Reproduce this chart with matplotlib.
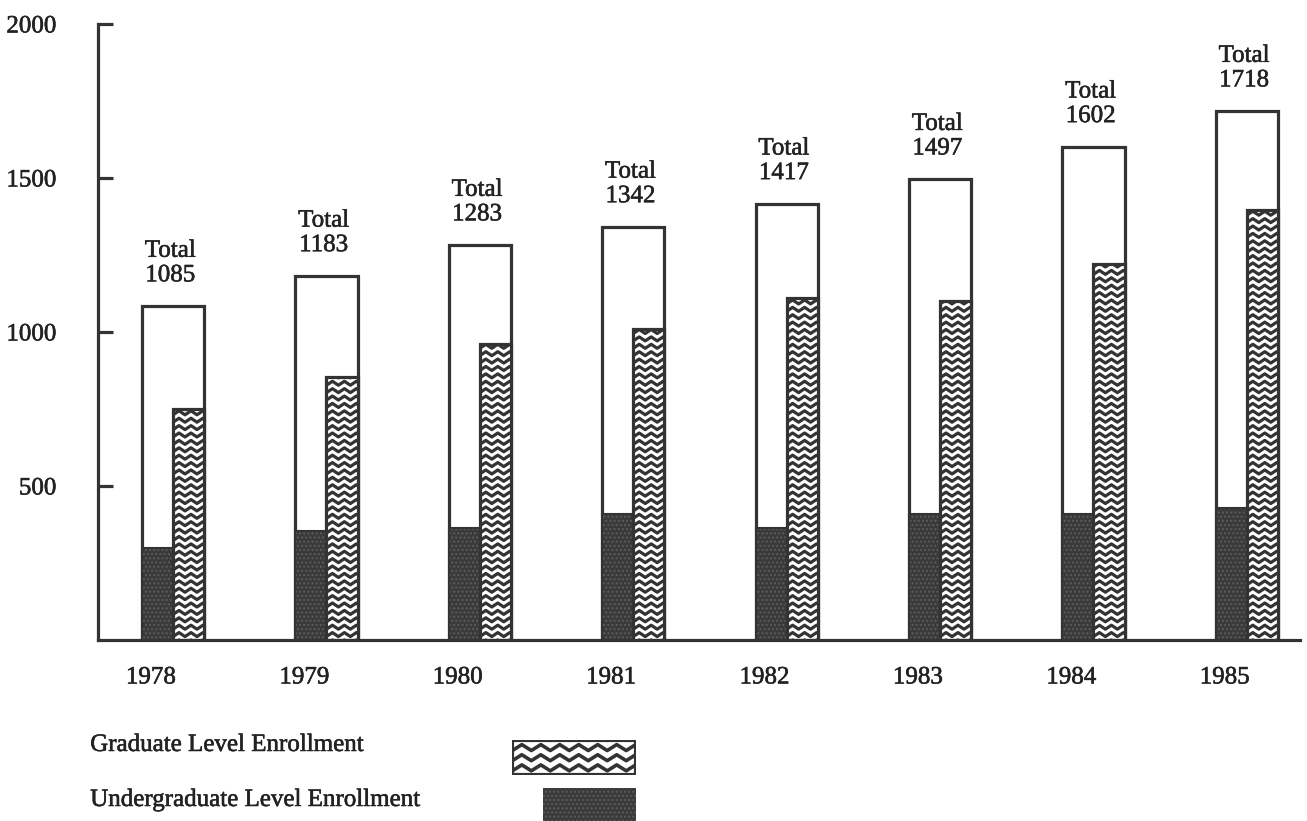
import matplotlib
matplotlib.use("Agg")
import matplotlib.pyplot as plt
import matplotlib.patheffects as pe
from matplotlib.collections import LineCollection
from matplotlib.patches import Rectangle
import numpy as np

plt.rcParams['font.family'] = ['Liberation Serif', 'DejaVu Serif']

years = ['1978', '1979', '1980', '1981', '1982', '1983', '1984', '1985']
totals = [1085, 1183, 1283, 1342, 1417, 1497, 1602, 1718]
graduate = [750, 855, 960, 1010, 1110, 1100, 1220, 1395]
undergrad = [300, 355, 365, 410, 365, 410, 410, 430]

INK = '#333333'
TXT = '#222222'
# scanned print looks a bit heavier than plain Times
heavy = [pe.withStroke(linewidth=0.4, foreground=TXT)]


def zigzag_rows(x0, x1, y0, y1, period, amp, step):
    # chevron rows used as the "wavy" fill of the graduate bars
    segs = []
    xs = np.arange(x0 - period, x1 + period, period / 2)
    for yb in np.arange(y0 - amp, y1 + step, step):
        ys = yb + amp * (np.arange(len(xs)) % 2)
        segs.append(np.column_stack([xs, ys]))
    return segs


fig = plt.figure(figsize=(13.07, 8.21), dpi=100)
ax = fig.add_axes([0.075, 0.2205, 0.9197, 0.7503])

x = np.arange(len(years))
w = 0.405

# total bars (white, outlined)
ax.bar(x, totals, width=w, facecolor='white', edgecolor=INK, linewidth=2.3, zorder=1)

# undergraduate bars (dark stipple)
ax.bar(x - w / 4, undergrad, width=w / 2, facecolor='#3a3a3a', edgecolor='#5c5c5c',
       linewidth=0, hatch='....', zorder=2)
ax.bar(x - w / 4, undergrad, width=w / 2, fill=False, edgecolor=INK, linewidth=1.5, zorder=4)

# graduate bars (wavy pattern)
faces = ax.bar(x + w / 4, graduate, width=w / 2, facecolor='white', linewidth=0, zorder=2)
for rect in faces:
    x0 = rect.get_x()
    segs = zigzag_rows(x0, x0 + rect.get_width(), 0, rect.get_height(),
                       period=0.078, amp=13, step=24)
    lc = LineCollection(segs, colors=INK, linewidths=2.3, zorder=3)
    ax.add_collection(lc)
    lc.set_clip_path(rect)
ax.bar(x + w / 4, graduate, width=w / 2, fill=False, edgecolor=INK, linewidth=2.3, zorder=4)

# total labels
for xi, t in zip(x, totals):
    ax.annotate(f"Total\n{t}", xy=(xi, t), xytext=(-2, 14), textcoords='offset points',
                ha='center', va='bottom', fontsize=18, color=TXT, linespacing=1.15,
                path_effects=heavy)

# year labels
for xi, yr in zip(x, years):
    ax.annotate(yr, xy=(xi, 0), xytext=(-16, -27), textcoords='offset points',
                ha='center', va='center', fontsize=18, color=TXT, path_effects=heavy)

ax.set_xlim(-0.489, 7.347)
ax.set_ylim(0, 2000)
ax.set_xticks([])
ax.set_yticks([500, 1000, 1500, 2000])
ax.tick_params(axis='y', direction='in', length=11, width=2.3, color=INK,
               labelsize=18, labelcolor=TXT, pad=30)
for lab in ax.get_yticklabels():
    lab.set_path_effects(heavy)
for side in ['top', 'right']:
    ax.spines[side].set_visible(False)
for side in ['left', 'bottom']:
    ax.spines[side].set_color(INK)
    ax.spines[side].set_linewidth(2.3)

# legend
fig.text(0.069, 0.0926, "Graduate Level Enrollment", fontsize=18, color=TXT, va='center',
         path_effects=heavy)
fig.text(0.069, 0.0256, "Undergraduate Level Enrollment", fontsize=18, color=TXT, va='center',
         path_effects=heavy)

lg = fig.add_axes([0.392, 0.056, 0.0949, 0.0426])
lg.set_xlim(0, 1)
lg.set_ylim(0, 1)
lg.axis('off')
box = Rectangle((0, 0), 1, 1, facecolor='white', linewidth=0)
lg.add_patch(box)
lc = LineCollection(zigzag_rows(0, 1, 0, 1, period=0.153, amp=0.17, step=0.29),
                    colors=INK, linewidths=2.6)
lg.add_collection(lc)
lc.set_clip_path(box)
lg.add_patch(Rectangle((0, 0), 1, 1, fill=False, edgecolor=INK, linewidth=3))

lu = fig.add_axes([0.4155, 0.0, 0.0712, 0.040])
lu.set_xlim(0, 1)
lu.set_ylim(0, 1)
lu.axis('off')
lu.add_patch(Rectangle((0, 0), 1, 1, facecolor='#3a3a3a', edgecolor='#5c5c5c',
                       linewidth=0, hatch='....'))

fig.savefig("out.png", dpi=100, facecolor='white')
